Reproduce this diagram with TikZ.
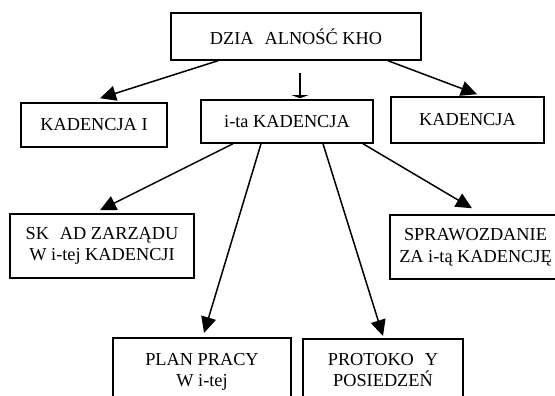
\documentclass[tikz,border=0pt]{standalone}
\usepackage{fontspec}
\setmainfont{Liberation Serif}
\usetikzlibrary{arrows.meta}

\begin{document}
\begin{tikzpicture}[x=1pt, y=-1pt,
		box/.style={draw, line width=1.5pt, inner sep=0pt, align=center, font=\fontsize{18.3}{21.5}\selectfont},
		txt/.style={inner sep=0pt, align=center, font=\fontsize{18.3}{21.5}\selectfont},
		link/.style={line width=1.5pt, -{Triangle[length=16pt, width=15pt]}}]
			%%%%% START %%%%%
			\useasboundingbox (0, 0) rectangle (555, 396);
			\clip (0, 0) rectangle (555, 396);
			
			\node[box, minimum width=250, minimum height=47] (dzial) at (296, 36.5) {DZIA\hspace{0.6em}ALNOŚĆ KHO};
			
			\node[box, minimum width=146, minimum height=44] (kadI) at (94, 125) {KADENCJA I};
			\node[box, minimum width=172, minimum height=43] (kadIta) at (287, 121.5) {i-ta KADENCJA};
			\node[box, minimum width=153, minimum height=46] (kadN) at (467.5, 120) {KADENCJA};
			
			\node[box, minimum width=184, minimum height=64] (sklad) at (102, 246) {SK\hspace{0.6em}AD ZARZĄDU\\W i-tej KADENCJI};
			\node[box, minimum width=171, minimum height=64] (spraw) at (475.5, 247) {SPRAWOZDANIE\\ZA i-tą KADENCJĘ};
			
			\node[draw, line width=1.5pt, minimum width=178, minimum height=90, anchor=north] (plan) at (202, 337) {};
			\node[txt, anchor=north] (planTxt) at (202, 353) {PLAN PRACY\\W i-tej};
			\node[draw, line width=1.5pt, minimum width=160, minimum height=90, anchor=north] (proto) at (383, 338) {};
			\node[txt, anchor=north] (protoTxt) at (383, 353) {PROTOKO\hspace{0.6em}Y\\POSIEDZEŃ};
			
			\draw[link] ([shift={(-78, 0)}]dzial.south) -- ([shift={(6, -4)}]kadI.north);
			\draw[link] ([shift={(92, 0)}]dzial.south) -- ([shift={(9.5, -2)}]kadN.north);
			\draw[line width=1.5pt, -{Triangle[length=3pt, width=16pt]}] ([shift={(4, 12)}]dzial.south) -- ([shift={(13, -1)}]kadIta.north);
			
			\draw[link] ([shift={(-54, 0)}]kadIta.south) -- ([shift={(-2, -3)}]sklad.north);
			\draw[link] ([shift={(-26, 0)}]kadIta.south) -- ([shift={(2, -4)}]plan.north);
			\draw[link] ([shift={(36, 0)}]kadIta.south) -- ([shift={(0, -2)}]proto.north);
			\draw[link] ([shift={(76, 0)}]kadIta.south) -- ([shift={(-3.5, -6)}]spraw.north);
			%%%%% END %%%%%
\end{tikzpicture}
\end{document}
